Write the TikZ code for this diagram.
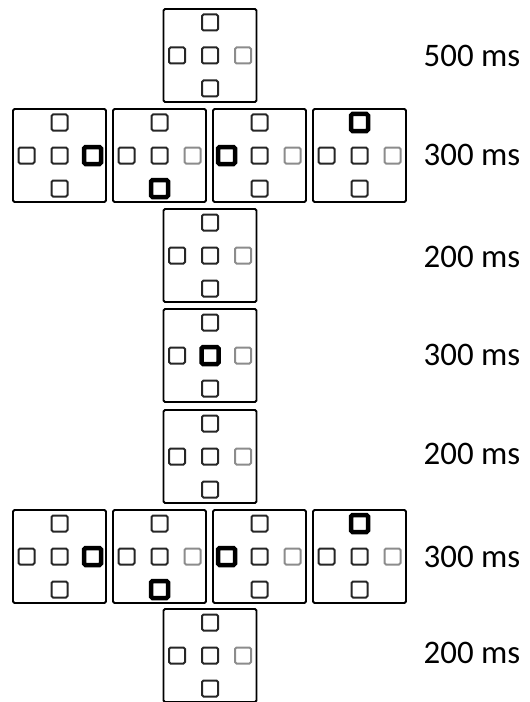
\documentclass[tikz,border=0pt]{standalone}
\usepackage{fontspec}
\setmainfont{Carlito}
\usetikzlibrary{calc}
\tikzset{
  frame/.style={draw,line width=1.8bp,minimum size=93bp,inner sep=0pt,rounded corners=1.5bp},
  probe/.style={draw=black!85,line width=2bp,minimum size=16bp,inner sep=0pt,rounded corners=1.5bp},
  faint/.style={probe,draw=black!45},
  cue/.style={probe,draw=black,line width=4.5bp,minimum size=17bp},
  dur/.style={font=\fontsize{33}{40}\selectfont,inner sep=0pt}
}
% one display: name, centre, then the styles of the top, left, centre, right and bottom probes
\newcommand{\stimdisplay}[7]{%
  \node[frame] (#1) at (#2) {};
  \node[#3] (#1t) at ($(#1)+(0,-33)$) {};
  \node[#4] (#1l) at ($(#1)+(-33,0)$) {};
  \node[#5] (#1c) at (#1) {};
  \node[#6] (#1r) at ($(#1)+(33,0)$) {};
  \node[#7] (#1b) at ($(#1)+(0,33)$) {};
}

\begin{document}
\begin{tikzpicture}[x=1bp,y=-1bp]
  \useasboundingbox (0,0) rectangle (530,702);
  \stimdisplay{fix}{210,55.5}{probe}{probe}{probe}{faint}{probe}
  \node[dur] (t1) at (472,56) {500 ms};

  \stimdisplay{pa}{59.5,155.5}{probe}{probe}{probe}{cue}{probe}
  \stimdisplay{pb}{159.5,155.5}{probe}{probe}{probe}{faint}{cue}
  \stimdisplay{pc}{259.5,155.5}{probe}{cue}{probe}{faint}{probe}
  \stimdisplay{pd}{359.5,155.5}{cue}{probe}{probe}{faint}{probe}
  \node[dur] (t2) at (472,155) {300 ms};

  \stimdisplay{isi}{210,255.5}{probe}{probe}{probe}{faint}{probe}
  \node[dur] (t3) at (472,257) {200 ms};

  \stimdisplay{ctr}{210,355.5}{probe}{probe}{cue}{faint}{probe}
  \node[dur] (t4) at (472,355) {300 ms};

  \stimdisplay{gap}{210,456.5}{probe}{probe}{probe}{faint}{probe}
  \node[dur] (t5) at (472,454) {200 ms};

  \stimdisplay{qa}{59.5,556.5}{probe}{probe}{probe}{cue}{probe}
  \stimdisplay{qb}{159.5,556.5}{probe}{probe}{probe}{faint}{cue}
  \stimdisplay{qc}{259.5,556.5}{probe}{cue}{probe}{faint}{probe}
  \stimdisplay{qd}{359.5,556.5}{cue}{probe}{probe}{faint}{probe}
  \node[dur] (t6) at (472,557) {300 ms};

  \stimdisplay{end}{210,655.5}{probe}{probe}{probe}{faint}{probe}
  \node[dur] (t7) at (472,653) {200 ms};
\end{tikzpicture}
\end{document}
